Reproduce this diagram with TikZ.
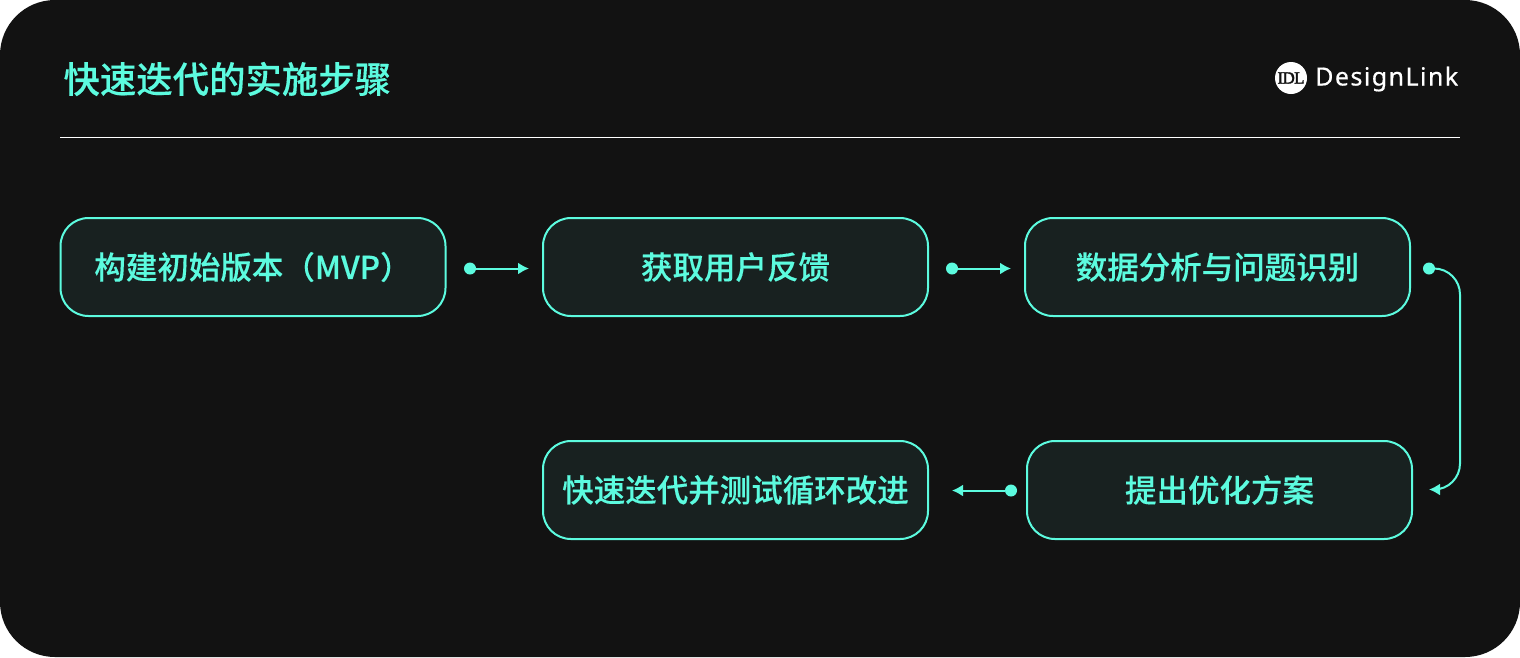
\documentclass[tikz,border=0pt]{standalone}
\usepackage{fontspec}
\usetikzlibrary{arrows.meta}
\setmainfont{Noto Sans}
\newfontfamily\cjk[FakeBold=0.25]{Noto Sans CJK SC Medium}
\newfontfamily\logofont[LetterSpace=5.8,FakeBold=0.5]{Noto Sans}
\newfontfamily\idlfont[FakeBold=2,LetterSpace=-4]{Liberation Serif}
\definecolor{bgdark}{HTML}{121212}
\definecolor{boxfill}{HTML}{182120}
\definecolor{mint}{HTML}{5CFBDF}
\tikzset{
  stepbox/.style={draw=mint,fill=boxfill,line width=2pt,rounded corners=28pt,minimum width=385pt,minimum height=98pt,inner sep=0pt,text=mint,font={\fontsize{31.5pt}{36pt}\selectfont\cjk}},
  dot/.style={circle,fill=mint,inner sep=0pt,minimum size=12pt},
  link/.style={draw=mint,line width=2pt,rounded corners=26pt,-{Latex[length=11pt,width=12pt]}}
}
\begin{document}
\begin{tikzpicture}[x=1pt,y=-1pt]
\useasboundingbox (0,0) rectangle (1520,657);
\fill[bgdark,rounded corners=55pt] (0,0) rectangle (1520,657);
\node [text=mint,anchor=west,font={\fontsize{36.4pt}{40pt}\selectfont\cjk}, name=title] at (60,79) {快速迭代的实施步骤};
\node [circle,fill=white,inner sep=0pt,minimum size=32pt,text=bgdark,font={\fontsize{17pt}{17pt}\selectfont\idlfont}, name=logo] at (1291,78) {IDL};
\node [text=white,anchor=west,inner sep=0pt,font={\fontsize{25pt}{28pt}\selectfont\logofont}, name=brand] at (1315,79) {DesignLink};
\coordinate (r1) at (60,137.5);
\coordinate (r2) at (1460,137.5);
\draw [white,line width=1pt] (r1) -- (r2);
\node [stepbox, name=b1] at (253,267) {\raisebox{-1pt}{构建初始版本（MVP）}};
\node [stepbox, name=b2] at (735.5,267) {\raisebox{-1pt}{获取用户反馈}};
\node [stepbox, name=b3] at (1217.5,267) {\raisebox{-1pt}{数据分析与问题识别}};
\node [stepbox, name=b4] at (1219.5,490) {\raisebox{-1pt}{提出优化方案}};
\node [stepbox, name=b5] at (735.5,490) {\raisebox{-1pt}{快速迭代并测试循环改进}};
\node [dot, name=d1] at (470,268.5) {};
\node [dot, name=d2] at (952,268.5) {};
\node [dot, name=d3] at (1429,268.5) {};
\node [dot, name=d4] at (1011,490.5) {};
\coordinate (e1) at (529,268.5);
\coordinate (e2) at (1011,268.5);
\coordinate (c3a) at (1460,268.5);
\coordinate (c3b) at (1460,489.5);
\coordinate (e3) at (1429,489.5);
\coordinate (e4) at (952,490.5);
\draw [link] (d1) -- (e1);
\draw [link] (d2) -- (e2);
\draw [link] (d3) -- (c3a) -- (c3b) -- (e3);
\draw [link] (d4) -- (e4);
\end{tikzpicture}
\end{document}
